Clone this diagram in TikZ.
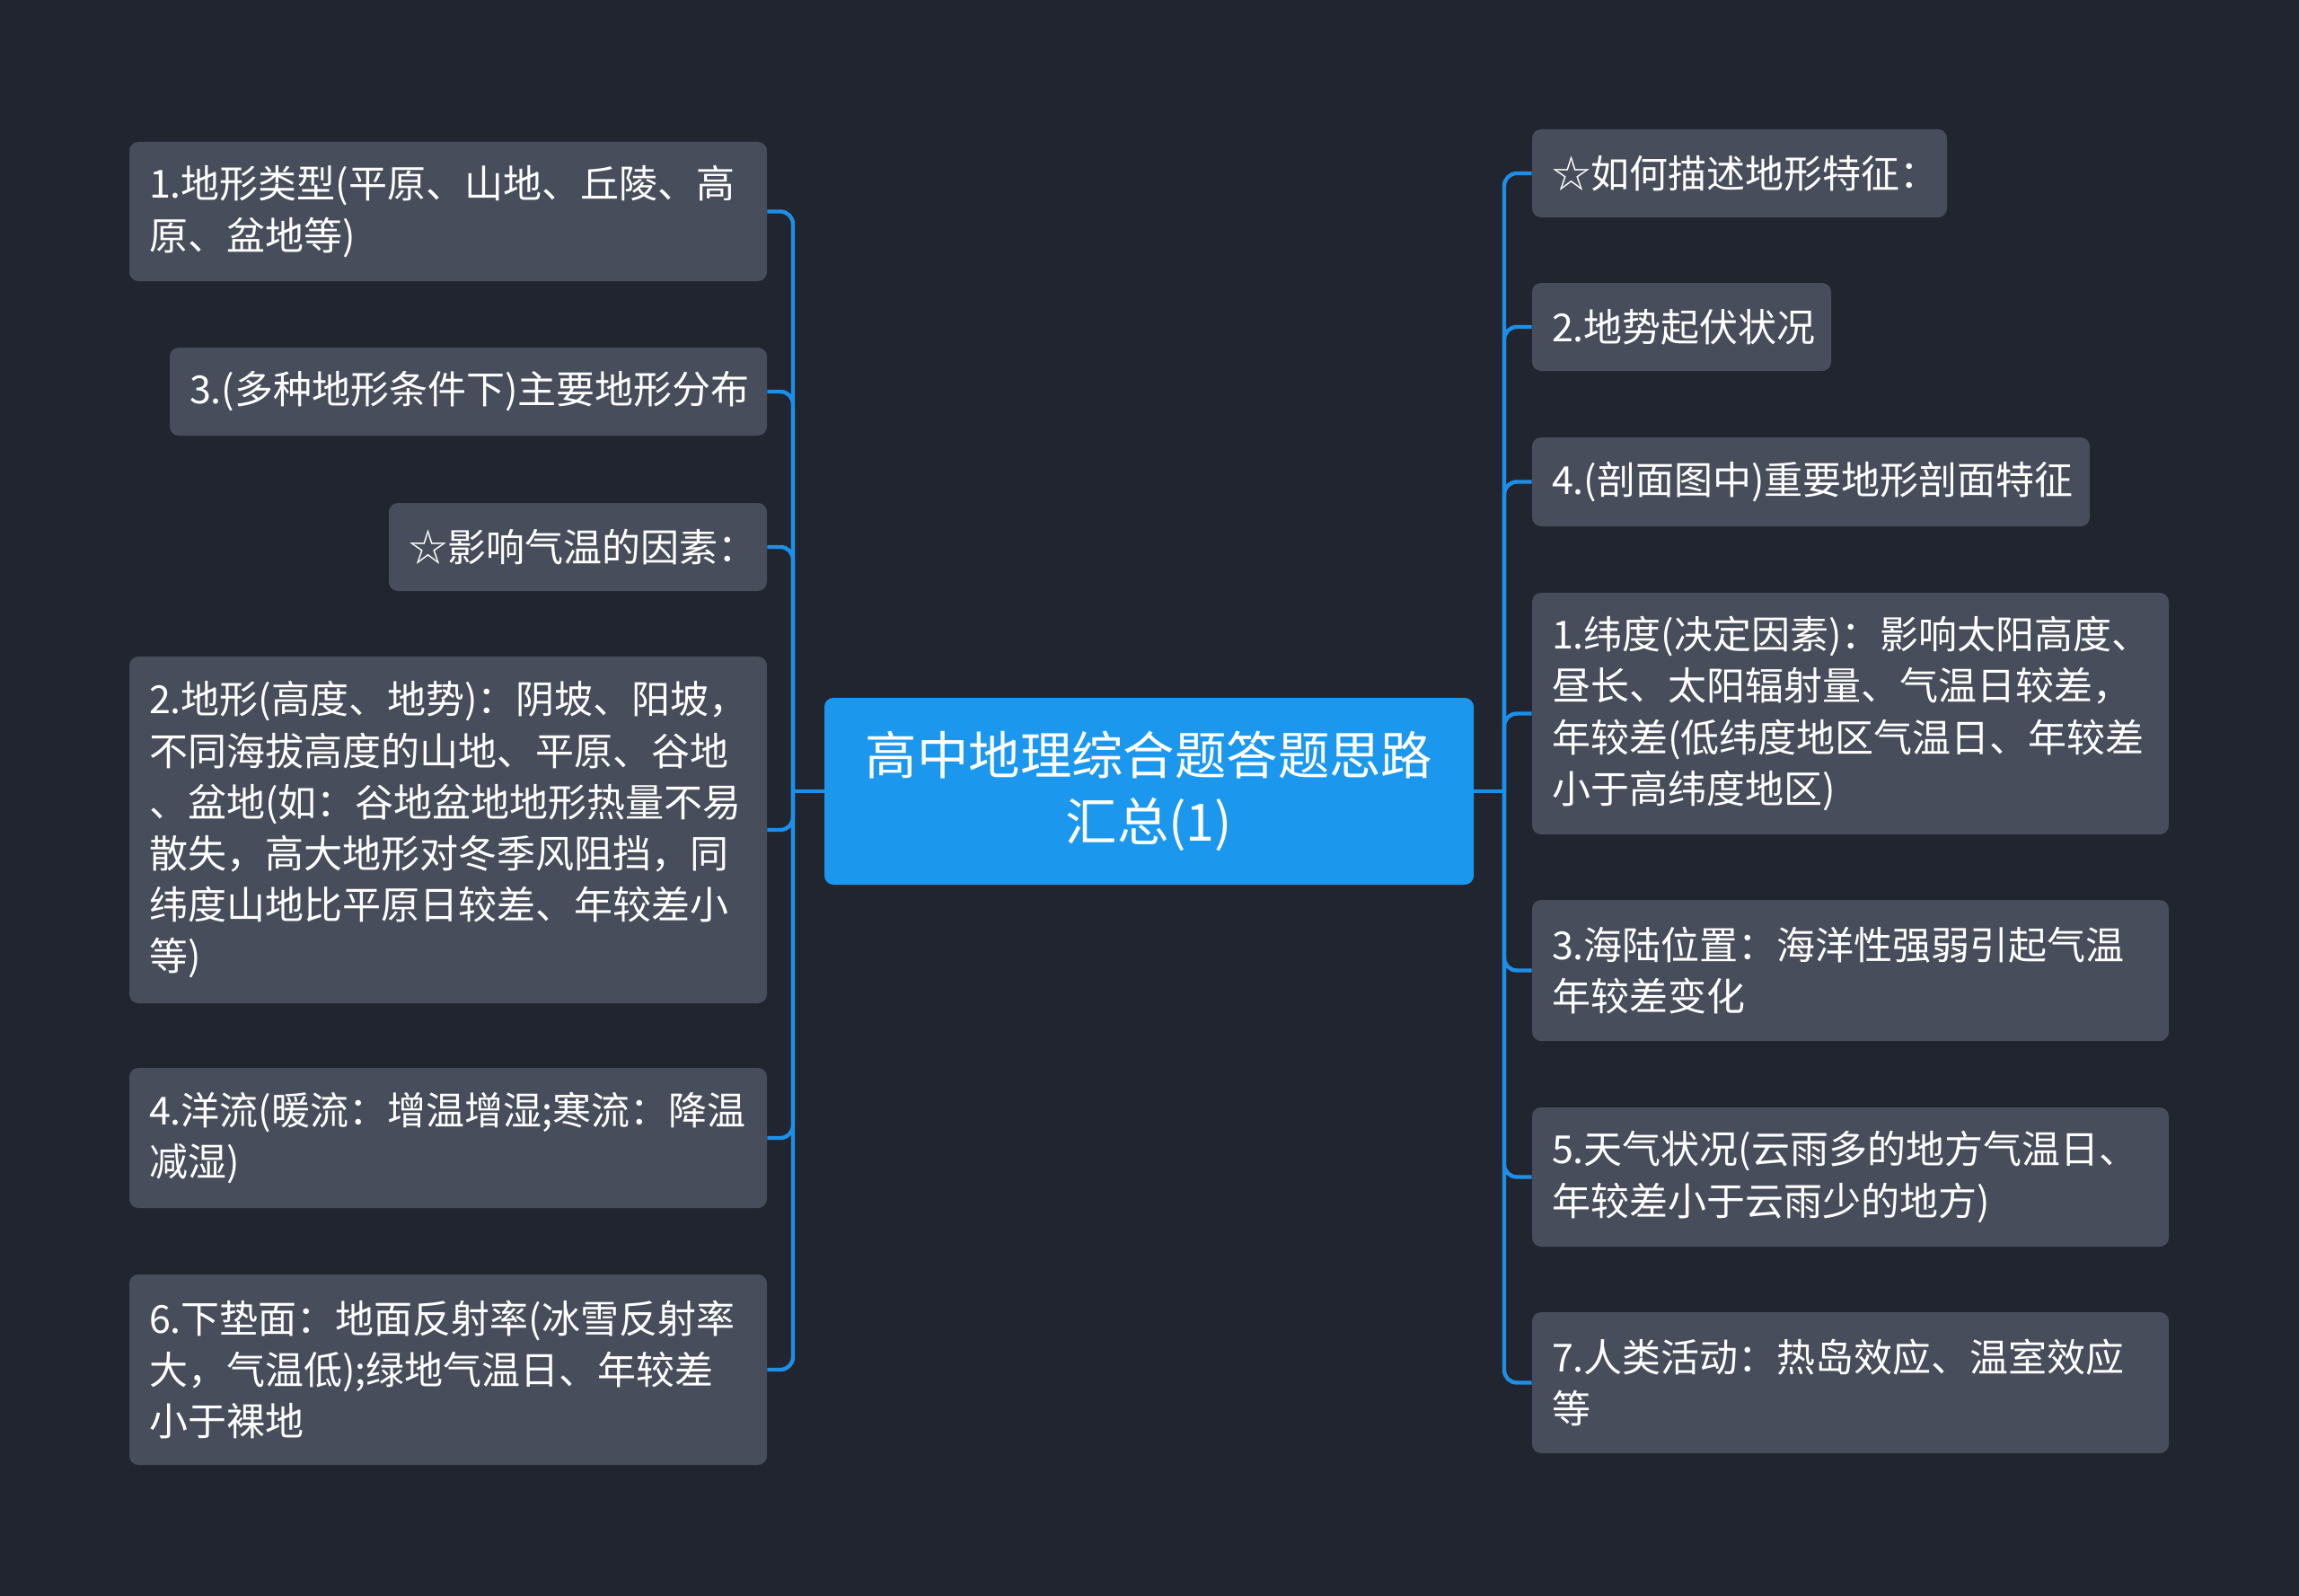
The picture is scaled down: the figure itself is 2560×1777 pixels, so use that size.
\documentclass[tikz,border=0pt]{standalone}
\usepackage{fontspec}
\newfontfamily\cjk{Noto Sans CJK SC}
\definecolor{bgc}{HTML}{21252F}
\definecolor{boxc}{HTML}{474D5A}
\definecolor{rootc}{HTML}{1B98EE}
\definecolor{cblue}{HTML}{1D8FE8}
\begin{document}
\begin{tikzpicture}[x=0.5pt,y=-0.5pt,
  conn/.style={draw=cblue, line width=2.2pt, rounded corners=7pt},
  leaf/.style={fill=boxc, rounded corners=5pt, text=white, font=\cjk\fontsize{21.5}{28.6}\selectfont, align=left, inner sep=0pt, anchor=center},
  rootn/.style={fill=rootc, rounded corners=5pt, text=white, font=\cjk\fontsize{28.7}{36.7}\selectfont, align=center, inner sep=0pt, anchor=center}]
\fill[bgc] (0,0) rectangle (2560,1777);
\useasboundingbox (0,0) rectangle (2560,1777);

% root
\node[rootn, minimum width=361.5pt, minimum height=104pt, text width=340pt] (root) at (1279.5,881) {高中地理综合题答题思路\\汇总(1)};

% left
\node[leaf, minimum width=355pt, minimum height=77.5pt, text width=333pt] (L1) at (499,235.5) {1.地形类型(平原、山地、丘陵、高\\原、盆地等)};
\node[leaf, minimum width=332.5pt, minimum height=49pt, text width=310.5pt] (L2) at (521.5,436) {3.(多种地形条件下)主要地形分布};
\node[leaf, minimum width=210.5pt, minimum height=49pt, text width=188.5pt] (L3) at (643.5,609) {☆影响气温的因素：};
\node[leaf, minimum width=355pt, minimum height=193pt, text width=333pt] (L4) at (499,924) {2.地形(高度、地势)：阴坡、阳坡，\\不同海拔高度的山地、平原、谷地\\、盆地(如：谷地盆地地形热量不易\\散失，高大地形对冬季风阻挡，同\\纬度山地比平原日较差、年较差小\\等)};
\node[leaf, minimum width=355pt, minimum height=78pt, text width=333pt] (L5) at (499,1267) {4.洋流(暖流：增温增湿;寒流：降温\\减湿)};
\node[leaf, minimum width=355pt, minimum height=106pt, text width=333pt] (L6) at (499,1525) {6.下垫面：地面反射率(冰雪反射率\\大，气温低);绿地气温日、年较差\\小于裸地};

% right
\node[leaf, minimum width=231pt, minimum height=49pt, text width=209pt] (R1) at (1937,193) {☆如何描述地形特征：};
\node[leaf, minimum width=166.5pt, minimum height=49pt, text width=144.5pt] (R2) at (1872.5,364) {2.地势起伏状况};
\node[leaf, minimum width=310.5pt, minimum height=49.5pt, text width=288.5pt] (R3) at (2016.5,536.5) {4.(剖面图中)重要地形剖面特征};
\node[leaf, minimum width=354.5pt, minimum height=134.5pt, text width=332.5pt] (R4) at (2060.5,794.5) {1.纬度(决定因素)：影响太阳高度、\\昼长、太阳辐射量、气温日较差，\\年较差(低纬度地区气温日、年较差\\小于高纬度地区)};
\node[leaf, minimum width=354.5pt, minimum height=78.5pt, text width=332.5pt] (R5) at (2060.5,1080.5) {3.海陆位置：海洋性强弱引起气温\\年较差变化};
\node[leaf, minimum width=354.5pt, minimum height=77.5pt, text width=332.5pt] (R6) at (2060.5,1310.5) {5.天气状况(云雨多的地方气温日、\\年较差小于云雨少的地方)};
\node[leaf, minimum width=354.5pt, minimum height=78.5pt, text width=332.5pt] (R7) at (2060.5,1539.5) {7.人类活动：热岛效应、温室效应\\等};

\coordinate (lj) at (883,881);
\coordinate (rj) at (1675,881);

\draw[conn] (root.west) -- (lj);
\draw[conn] (root.east) -- (rj);
\foreach \n in {L1,L2,L3,L4,L5,L6} \draw[conn] (\n.east) -| (lj);
\foreach \n in {R1,R2,R3,R4,R5,R6,R7} \draw[conn] (\n.west) -| (rj);
\end{tikzpicture}
\end{document}
